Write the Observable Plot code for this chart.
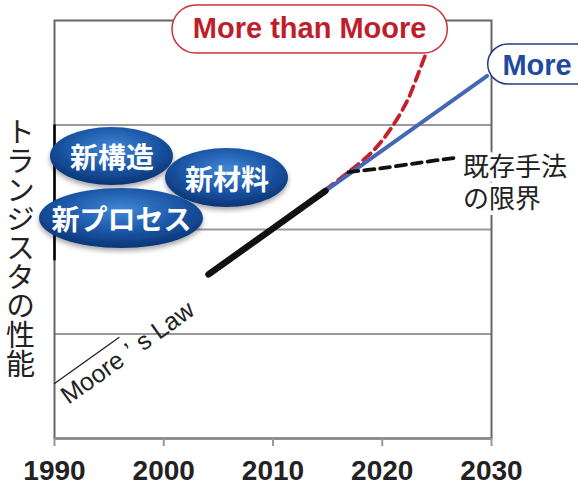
<!DOCTYPE html>
<html><head><meta charset="utf-8">
<script src="https://cdn.jsdelivr.net/npm/d3@7"></script>
<script src="https://cdn.jsdelivr.net/npm/@observablehq/plot@0.6"></script>
<style>
html,body{margin:0;padding:0;background:#fff;overflow:hidden}
#chart{width:578px;height:489px;overflow:hidden}
</style>
</head><body><div id="chart"></div>
<script>
// ---- data ----
const tickYears = [1990, 2000, 2010, 2020, 2030];
const tickLabels = ["1990", "2000", "2010", "2020", "2030"];
const gridLevels = [1, 2, 3];
const yAxisLabel = "トランジスタの性能";

const mooreThinYear = [1990, 1995.9];
const mooreThinValue = [0.526, 0.967];
const mooreThickYear = [2004.1, 2014.8];
const mooreThickValue = [1.57, 2.37];
const moreMooreYear = [2014.8, 2029.6];
const moreMooreValue = [2.37, 3.47];
const moreThanYear = [2014.8, 2017.1, 2019.2, 2020.8, 2022.3, 2023.3, 2024.0];
const moreThanValue = [2.38, 2.565, 2.756, 2.967, 3.234, 3.493, 3.684];
const limitYear = [2016.9, 2019.8, 2023.5, 2026.9];
const limitValue = [2.55, 2.584, 2.641, 2.689];

const bubbleLabels = ["新構造", "新材料", "新プロセス"];
const bubbleYear = [1995.26, 2005.79, 1996.13];
const bubbleValue = [2.699, 2.493, 2.105];

const mooreLawLabel = "Moore’s Law";
const mooreLawYear = 1996.7, mooreLawValue = 0.82;
const limitLabel = "既存手法\nの限界";
const limitLabelYear = 2027.4, limitLabelValue = 2.46;
const moreThanLabel = "More than Moore";
const moreThanBox = {x1: 2000.8, x2: 2026.0, y1: 3.684, y2: 4.144};
const moreThanLabelPos = {x: 2013.35, y: 3.918};
const moreLabel = "More";
const moreBox = {x1: 2029.7, x2: 2040, y1: 3.388, y2: 3.770};
const moreLabelPos = {x: 2031.0, y: 3.569};
const axisAccent = [1.7, 3];

// ---- build ----
const pts = (xs, ys) => xs.map((x, i) => ({x, y: ys[i]}));
const bubbles = bubbleLabels.map((label, i) => ({label, x: bubbleYear[i], y: bubbleValue[i]}));
const bubbleSize = {"新構造": [61.5, 29], "新材料": [61.5, 29.5], "新プロセス": [82, 30]};

const latin = "'Liberation Sans', Arial, Helvetica, sans-serif";
const cjk = "'Noto Sans CJK JP', 'Noto Sans', sans-serif";

function bubbleMark(index, scales, values, dimensions, context) {
  const g = d3.create("svg:g");
  const defs = g.append("defs");
  const grad = defs.append("radialGradient").attr("id", "bubGrad")
    .attr("cx", "50%").attr("cy", "36%").attr("r", "64%");
  grad.append("stop").attr("offset", "0%").attr("stop-color", "#4186d6");
  grad.append("stop").attr("offset", "55%").attr("stop-color", "#1c58a8");
  grad.append("stop").attr("offset", "100%").attr("stop-color", "#0a3476");
  const f = defs.append("filter").attr("id", "bubShadow")
    .attr("x", "-20%").attr("y", "-20%").attr("width", "140%").attr("height", "150%");
  f.append("feDropShadow").attr("dx", 0).attr("dy", 3).attr("stdDeviation", 2.5)
    .attr("flood-color", "#000").attr("flood-opacity", 0.35);
  for (const b of bubbles) {
    const [rx, ry] = bubbleSize[b.label];
    g.append("ellipse")
      .attr("cx", scales.x(b.x)).attr("cy", scales.y(b.y))
      .attr("rx", rx).attr("ry", ry)
      .attr("fill", "url(#bubGrad)").attr("filter", "url(#bubShadow)");
  }
  return g.node();
}

const chart = Plot.plot({
  width: 578, height: 489,
  marginLeft: 54, marginRight: 87, marginTop: 20, marginBottom: 51,
  x: {domain: [1990, 2030]},
  y: {domain: [0, 4], axis: null},
  style: {fontFamily: latin, background: "#fff", overflow: "visible"},
  marks: [
    Plot.ruleY(gridLevels, {stroke: "#9a9a9a", strokeWidth: 2}),
    Plot.frame({stroke: "#666", strokeWidth: 2}),
    Plot.ruleY([0], {stroke: "#888", strokeWidth: 2.5}),
    Plot.ruleX([1990], {y1: axisAccent[0], y2: axisAccent[1], stroke: "#000", strokeWidth: 2.5}),
    Plot.axisX({
      ticks: tickYears, tickSize: 8, tickPadding: 14,
      tickFormat: (d) => tickLabels[tickYears.indexOf(d)],
      stroke: "#999", strokeWidth: 2, fill: "#222",
      fontSize: 28, fontWeight: "bold", fontFamily: latin
    }),
    Plot.text([yAxisLabel], {
      frameAnchor: "left", textAnchor: "middle", lineAnchor: "top", dx: -34, dy: -2,
      fontSize: 29, fontFamily: cjk, fill: "#222"
    }),
    // Moore's law lines
    Plot.line(pts(mooreThinYear, mooreThinValue), {x: "x", y: "y", stroke: "#222", strokeWidth: 1.3}),
    Plot.line(pts(moreThanYear, moreThanValue), {x: "x", y: "y", stroke: "#c4202c", strokeWidth: 3.8, strokeDasharray: "10,6", curve: "catmull-rom"}),
    Plot.line(pts(moreMooreYear, moreMooreValue), {x: "x", y: "y", stroke: "#4468b8", strokeWidth: 4}),
    Plot.line(pts(limitYear, limitValue), {x: "x", y: "y", stroke: "#111", strokeWidth: 3.8, strokeDasharray: "10,6", curve: "catmull-rom"}),
    Plot.line(pts(mooreThickYear, mooreThickValue), {x: "x", y: "y", stroke: "#111", strokeWidth: 6.5}),
    Plot.text([mooreLawLabel], {
      x: () => mooreLawYear, y: () => mooreLawValue, rotate: -35.6,
      fontSize: 25, fontFamily: latin, fill: "#222"
    }),
    // bubbles
    bubbleMark,
    Plot.text(bubbles, {
      x: "x", y: "y", text: "label", dy: 3,
      fontSize: 28, fontWeight: "bold", fontFamily: cjk, fill: "#fff"
    }),
    // limit label
    Plot.text([limitLabel], {
      x: () => limitLabelYear, y: () => limitLabelValue, textAnchor: "start",
      lineHeight: 1.24, fontSize: 26, fontFamily: cjk, fill: "#222",
      stroke: "#fff", strokeWidth: 9
    }),
    // callouts
    Plot.rect([moreThanBox], {x1: "x1", x2: "x2", y1: "y1", y2: "y2", rx: 24, fill: "#fff", stroke: "#c8323b", strokeWidth: 1.5}),
    Plot.text([moreThanLabel], {
      x: () => moreThanLabelPos.x, y: () => moreThanLabelPos.y,
      fontSize: 29, fontWeight: "bold", fontFamily: latin, fill: "#be1e2b"
    }),
    Plot.rect([moreBox], {x1: "x1", x2: "x2", y1: "y1", y2: "y2", rx: 20, fill: "#fff", stroke: "#24388a", strokeWidth: 1.5}),
    Plot.text([moreLabel], {
      x: () => moreLabelPos.x, y: () => moreLabelPos.y, textAnchor: "start",
      fontSize: 29, fontWeight: "bold", fontFamily: latin, fill: "#1f4a9f"
    })
  ]
});

// vertical writing for the y-axis title (single text element)
d3.select(chart).selectAll("text")
  .filter(function () { return this.textContent === yAxisLabel; })
  .attr("dy", null)
  .style("writing-mode", "vertical-rl")
  .style("text-orientation", "upright");

// wide spacing around the apostrophe in "Moore’s Law", as in the original
d3.select(chart).selectAll("text")
  .filter(function () { return this.textContent === mooreLawLabel; })
  .each(function () {
    const t = d3.select(this);
    const parts = mooreLawLabel.split("’");
    t.text(null);
    t.append("tspan").text(parts[0]);
    t.append("tspan").attr("dx", 8).text("’");
    t.append("tspan").attr("dx", 8).text(parts[1]);
  });

document.getElementById("chart").append(chart);
</script>
</body></html>
